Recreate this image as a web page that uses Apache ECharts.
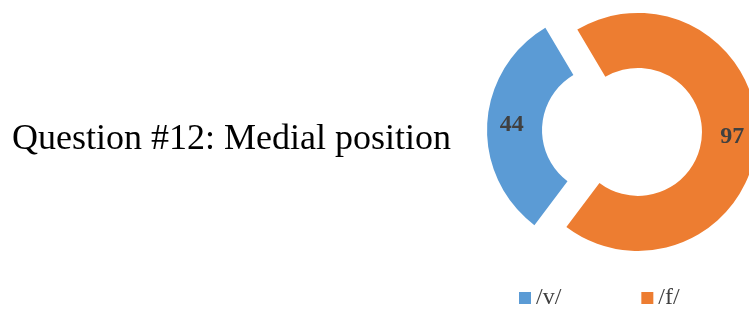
<!DOCTYPE html>
<html>
<head>
<meta charset="utf-8">
<script src="https://cdn.jsdelivr.net/npm/echarts@6/dist/echarts.min.js"></script>
<style>
    html, body { margin: 0; padding: 0; background: #fff; }
    #chart { width: 749px; height: 309px; }
</style>
</head>
<body>
<div id="chart"></div>
<script>
// Data
const titleText = 'Question #12: Medial position';
const categories = ['/v/', '/f/'];
const counts = [44, 97];
const colors = ['#5B9BD5', '#ED7D31'];

const chart = echarts.init(document.getElementById('chart'));

const option = {
    backgroundColor: '#ffffff',
    animation: false,
    title: {
        text: titleText,
        left: 7,
        top: 117,
        textStyle: {
            fontFamily: 'Liberation Serif',
            fontWeight: 'normal',
            fontSize: 36,
            color: '#000'
        }
    },
    legend: {
        top: 281,
        left: 514,
        itemWidth: 12,
        itemHeight: 12,
        itemGap: 80,
        icon: 'rect',
        textStyle: {
            fontFamily: 'Liberation Serif',
            fontSize: 24,
            color: '#404040'
        },
        data: categories
    },
    series: [
        {
            name: 'Medial position',
            type: 'pie',
            center: [622, 131],
            radius: [64, 119],
            startAngle: 233,
            clockwise: true,
            selectedMode: 'multiple',
            selectedOffset: 16,
            avoidLabelOverlap: false,
            label: {
                show: true,
                position: 'inside',
                formatter: '{c}',
                fontFamily: 'Liberation Serif',
                fontWeight: 'bold',
                fontSize: 24,
                color: '#404040'
            },
            labelLine: { show: false },
            emphasis: { disabled: true },
            data: categories.map((name, i) => ({
                name: name,
                value: counts[i],
                selected: true,
                itemStyle: { color: colors[i] }
            }))
        }
    ]
};

chart.setOption(option);
</script>
</body>
</html>
